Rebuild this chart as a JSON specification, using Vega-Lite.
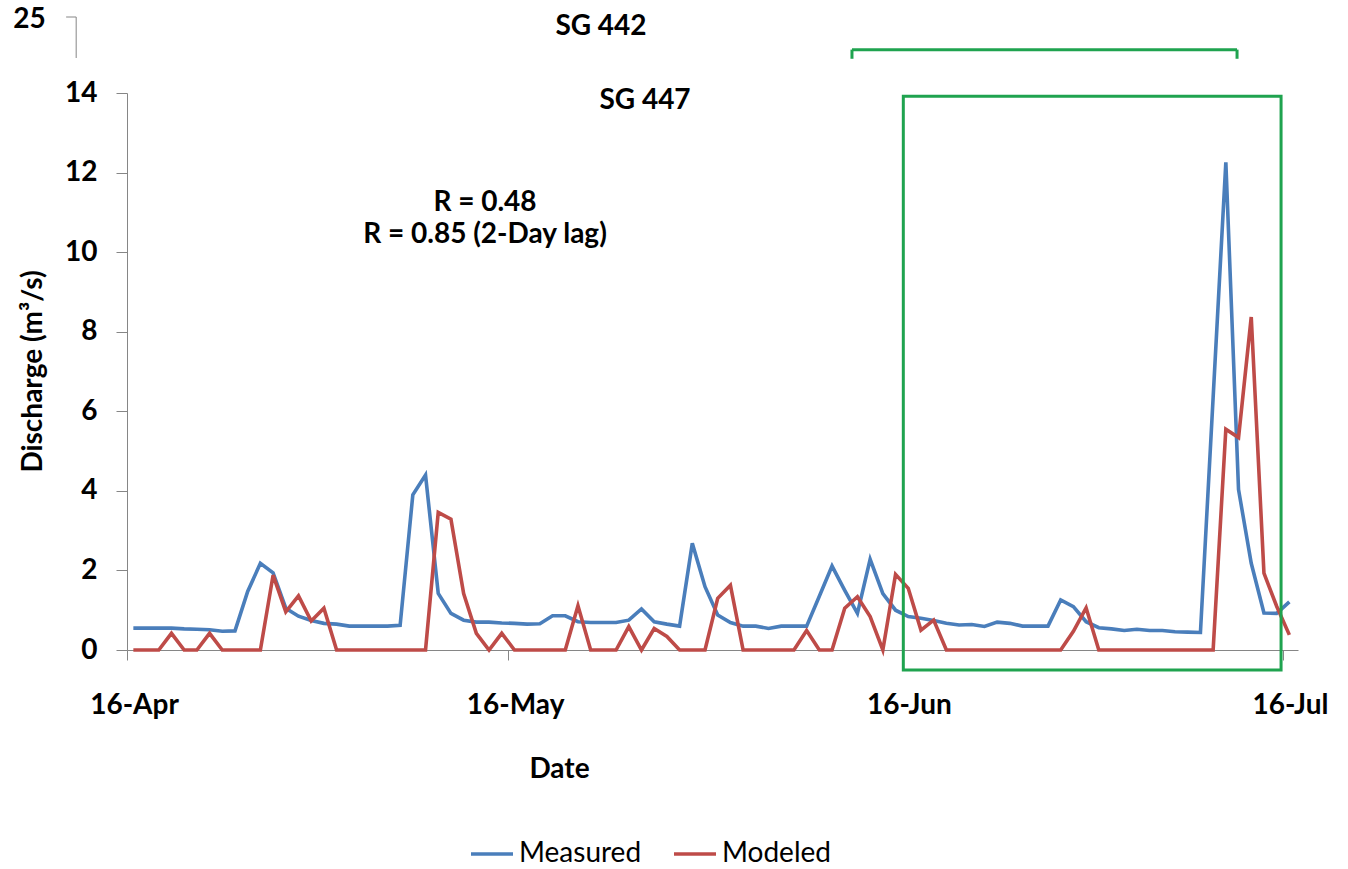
{
  "$schema": "https://vega.github.io/schema/vega-lite/v6.json",
  "width": 1171,
  "height": 557,
  "autosize": {"type": "none"},
  "padding": {"left": 127, "top": 93, "right": 50, "bottom": 219},
  "background": "white",
  "config": {"view": {"stroke": null}, "font": "Lato"},
  "datasets": {
    "flow": [
      {"date": "2012-04-16T12:00", "Measured": 0.55, "Modeled": 0},
      {"date": "2012-04-17T12:00", "Measured": 0.55, "Modeled": 0},
      {"date": "2012-04-18T12:00", "Measured": 0.55, "Modeled": 0},
      {"date": "2012-04-19T12:00", "Measured": 0.55, "Modeled": 0.42},
      {"date": "2012-04-20T12:00", "Measured": 0.53, "Modeled": 0},
      {"date": "2012-04-21T12:00", "Measured": 0.52, "Modeled": 0},
      {"date": "2012-04-22T12:00", "Measured": 0.51, "Modeled": 0.42},
      {"date": "2012-04-23T12:00", "Measured": 0.47, "Modeled": 0},
      {"date": "2012-04-24T12:00", "Measured": 0.48, "Modeled": 0},
      {"date": "2012-04-25T12:00", "Measured": 1.47, "Modeled": 0},
      {"date": "2012-04-26T12:00", "Measured": 2.18, "Modeled": 0},
      {"date": "2012-04-27T12:00", "Measured": 1.94, "Modeled": 1.88},
      {"date": "2012-04-28T12:00", "Measured": 1.05, "Modeled": 0.96},
      {"date": "2012-04-29T12:00", "Measured": 0.85, "Modeled": 1.36},
      {"date": "2012-04-30T12:00", "Measured": 0.74, "Modeled": 0.73},
      {"date": "2012-05-01T12:00", "Measured": 0.67, "Modeled": 1.05},
      {"date": "2012-05-02T12:00", "Measured": 0.65, "Modeled": 0},
      {"date": "2012-05-03T12:00", "Measured": 0.6, "Modeled": 0},
      {"date": "2012-05-04T12:00", "Measured": 0.6, "Modeled": 0},
      {"date": "2012-05-05T12:00", "Measured": 0.6, "Modeled": 0},
      {"date": "2012-05-06T12:00", "Measured": 0.6, "Modeled": 0},
      {"date": "2012-05-07T12:00", "Measured": 0.62, "Modeled": 0},
      {"date": "2012-05-08T12:00", "Measured": 3.9, "Modeled": 0},
      {"date": "2012-05-09T12:00", "Measured": 4.4, "Modeled": 0},
      {"date": "2012-05-10T12:00", "Measured": 1.42, "Modeled": 3.46},
      {"date": "2012-05-11T12:00", "Measured": 0.92, "Modeled": 3.29},
      {"date": "2012-05-12T12:00", "Measured": 0.75, "Modeled": 1.42},
      {"date": "2012-05-13T12:00", "Measured": 0.7, "Modeled": 0.42},
      {"date": "2012-05-14T12:00", "Measured": 0.7, "Modeled": 0},
      {"date": "2012-05-15T12:00", "Measured": 0.68, "Modeled": 0.42},
      {"date": "2012-05-16T12:00", "Measured": 0.67, "Modeled": 0},
      {"date": "2012-05-17T12:00", "Measured": 0.65, "Modeled": 0},
      {"date": "2012-05-18T12:00", "Measured": 0.66, "Modeled": 0},
      {"date": "2012-05-19T12:00", "Measured": 0.86, "Modeled": 0},
      {"date": "2012-05-20T12:00", "Measured": 0.86, "Modeled": 0},
      {"date": "2012-05-21T12:00", "Measured": 0.71, "Modeled": 1.11},
      {"date": "2012-05-22T12:00", "Measured": 0.69, "Modeled": 0},
      {"date": "2012-05-23T12:00", "Measured": 0.69, "Modeled": 0},
      {"date": "2012-05-24T12:00", "Measured": 0.69, "Modeled": 0},
      {"date": "2012-05-25T12:00", "Measured": 0.75, "Modeled": 0.59},
      {"date": "2012-05-26T12:00", "Measured": 1.03, "Modeled": 0},
      {"date": "2012-05-27T12:00", "Measured": 0.71, "Modeled": 0.54},
      {"date": "2012-05-28T12:00", "Measured": 0.65, "Modeled": 0.34},
      {"date": "2012-05-29T12:00", "Measured": 0.6, "Modeled": 0},
      {"date": "2012-05-30T12:00", "Measured": 2.68, "Modeled": 0},
      {"date": "2012-05-31T12:00", "Measured": 1.59, "Modeled": 0},
      {"date": "2012-06-01T12:00", "Measured": 0.88, "Modeled": 1.3},
      {"date": "2012-06-02T12:00", "Measured": 0.69, "Modeled": 1.63},
      {"date": "2012-06-03T12:00", "Measured": 0.6, "Modeled": 0},
      {"date": "2012-06-04T12:00", "Measured": 0.6, "Modeled": 0},
      {"date": "2012-06-05T12:00", "Measured": 0.54, "Modeled": 0},
      {"date": "2012-06-06T12:00", "Measured": 0.6, "Modeled": 0},
      {"date": "2012-06-07T12:00", "Measured": 0.6, "Modeled": 0},
      {"date": "2012-06-08T12:00", "Measured": 0.6, "Modeled": 0.49},
      {"date": "2012-06-09T12:00", "Measured": 1.35, "Modeled": 0},
      {"date": "2012-06-10T12:00", "Measured": 2.11, "Modeled": 0},
      {"date": "2012-06-11T12:00", "Measured": 1.5, "Modeled": 1.05},
      {"date": "2012-06-12T12:00", "Measured": 0.92, "Modeled": 1.34},
      {"date": "2012-06-13T12:00", "Measured": 2.28, "Modeled": 0.84},
      {"date": "2012-06-14T12:00", "Measured": 1.42, "Modeled": 0},
      {"date": "2012-06-15T12:00", "Measured": 1.0, "Modeled": 1.9},
      {"date": "2012-06-16T12:00", "Measured": 0.84, "Modeled": 1.55},
      {"date": "2012-06-17T12:00", "Measured": 0.8, "Modeled": 0.5},
      {"date": "2012-06-18T12:00", "Measured": 0.74, "Modeled": 0.75},
      {"date": "2012-06-19T12:00", "Measured": 0.67, "Modeled": 0},
      {"date": "2012-06-20T12:00", "Measured": 0.63, "Modeled": 0},
      {"date": "2012-06-21T12:00", "Measured": 0.64, "Modeled": 0},
      {"date": "2012-06-22T12:00", "Measured": 0.59, "Modeled": 0},
      {"date": "2012-06-23T12:00", "Measured": 0.7, "Modeled": 0},
      {"date": "2012-06-24T12:00", "Measured": 0.67, "Modeled": 0},
      {"date": "2012-06-25T12:00", "Measured": 0.6, "Modeled": 0},
      {"date": "2012-06-26T12:00", "Measured": 0.6, "Modeled": 0},
      {"date": "2012-06-27T12:00", "Measured": 0.6, "Modeled": 0},
      {"date": "2012-06-28T12:00", "Measured": 1.26, "Modeled": 0},
      {"date": "2012-06-29T12:00", "Measured": 1.09, "Modeled": 0.47},
      {"date": "2012-06-30T12:00", "Measured": 0.71, "Modeled": 1.06},
      {"date": "2012-07-01T12:00", "Measured": 0.56, "Modeled": 0},
      {"date": "2012-07-02T12:00", "Measured": 0.53, "Modeled": 0},
      {"date": "2012-07-03T12:00", "Measured": 0.49, "Modeled": 0},
      {"date": "2012-07-04T12:00", "Measured": 0.52, "Modeled": 0},
      {"date": "2012-07-05T12:00", "Measured": 0.49, "Modeled": 0},
      {"date": "2012-07-06T12:00", "Measured": 0.49, "Modeled": 0},
      {"date": "2012-07-07T12:00", "Measured": 0.46, "Modeled": 0},
      {"date": "2012-07-08T12:00", "Measured": 0.45, "Modeled": 0},
      {"date": "2012-07-09T12:00", "Measured": 0.44, "Modeled": 0},
      {"date": "2012-07-10T12:00", "Measured": 6.35, "Modeled": 0},
      {"date": "2012-07-11T12:00", "Measured": 12.26, "Modeled": 5.55},
      {"date": "2012-07-12T12:00", "Measured": 4.03, "Modeled": 5.34},
      {"date": "2012-07-13T12:00", "Measured": 2.18, "Modeled": 8.37},
      {"date": "2012-07-14T12:00", "Measured": 0.93, "Modeled": 1.93},
      {"date": "2012-07-15T12:00", "Measured": 0.92, "Modeled": 1.1},
      {"date": "2012-07-16T12:00", "Measured": 1.21, "Modeled": 0.38}
    ],
    "box447": [
      {"date": "2012-06-16T02:40", "date2": "2012-07-15T20:20", "q": -0.5, "q2": 13.92}
    ],
    "box442": [
      {"date": "2012-06-12T01:40", "q": 15.09, "date2": "2012-07-12T09:10", "q2": 15.09},
      {"date": "2012-06-12T01:40", "q": 15.09, "date2": "2012-06-12T01:40", "q2": 14.86},
      {"date": "2012-07-12T09:10", "q": 15.09, "date2": "2012-07-12T09:10", "q2": 14.86}
    ],
    "stub": [
      {"date": "2012-04-12T00:00", "q": 15.91, "date2": "2012-04-12T00:00", "q2": 14.88},
      {"date": "2012-04-11T05:00", "q": 15.91, "date2": "2012-04-12T00:00", "q2": 15.91}
    ],
    "notes": [
      {"label": "SG 442", "date": "2012-05-23T07:30", "q": 15.66},
      {"label": "SG 447", "date": "2012-05-26T18:40", "q": 13.8},
      {"label": "R = 0.48", "date": "2012-05-14T04:20", "q": 11.23},
      {"label": "R = 0.85 (2-Day lag)", "date": "2012-05-14T04:20", "q": 10.43},
      {"label": "25", "date": "2012-04-08T07:40", "q": 15.83}
    ]
  },
  "encoding": {
    "x": {
      "field": "date",
      "type": "temporal",
      "scale": {
        "domain": [
          {"year": 2012, "month": 4, "date": 16, "hours": 0},
          {"year": 2012, "month": 7, "date": 17, "hours": 4, "minutes": 20}
        ],
        "nice": false
      },
      "axis": {
        "title": "Date",
        "values": [
          {"year": 2012, "month": 4, "date": 16},
          {"year": 2012, "month": 5, "date": 16},
          {"year": 2012, "month": 6, "date": 16},
          {"year": 2012, "month": 7, "date": 16}
        ],
        "format": "%d-%b",
        "grid": false,
        "domainColor": "#868686",
        "tickColor": "#868686",
        "tickSize": 10,
        "labelOffset": 7,
        "labelPadding": 31,
        "labelFlush": false,
        "labelOverlap": false,
        "labelBound": false,
        "labelFont": "Lato",
        "labelFontWeight": "bold",
        "labelFontSize": 28,
        "labelColor": "black",
        "titleFont": "Lato",
        "titleFontWeight": "bold",
        "titleFontSize": 28,
        "titleColor": "black",
        "titleX": 432,
        "titleY": 119,
        "titleAlign": "center",
        "titleBaseline": "middle",
        "titleAnchor": null
      }
    },
    "y": {
      "field": "q",
      "type": "quantitative",
      "scale": {"domain": [0, 14], "nice": false, "zero": false},
      "axis": {
        "title": "Discharge (m³/s)",
        "values": [0, 2, 4, 6, 8, 10, 12, 14],
        "grid": false,
        "domainColor": "#868686",
        "tickColor": "#868686",
        "tickSize": 11,
        "labelPadding": 19,
        "labelFont": "Lato",
        "labelFontWeight": "bold",
        "labelFontSize": 28,
        "labelColor": "black",
        "labelFlush": false,
        "labelOverlap": false,
        "titleFont": "Lato",
        "titleFontWeight": "bold",
        "titleFontSize": 28,
        "titleColor": "black",
        "titleAngle": -90,
        "titleX": -94,
        "titleY": 278,
        "titleAlign": "center",
        "titleBaseline": "middle"
      }
    }
  },
  "layer": [
    {
      "data": {"name": "flow"},
      "transform": [{"fold": ["Measured", "Modeled"], "as": ["series", "q"]}],
      "mark": {"type": "line", "strokeWidth": 3.6, "strokeJoin": "miter"},
      "encoding": {
        "color": {
          "field": "series",
          "type": "nominal",
          "scale": {"domain": ["Measured", "Modeled"], "range": ["#4a7ebb", "#be4b48"]},
          "legend": {
            "title": null,
            "orient": "none",
            "direction": "horizontal",
            "legendX": 342,
            "legendY": 738,
            "symbolType": "stroke",
            "symbolSize": 1764,
            "symbolStrokeWidth": 3.6,
            "labelFont": "Lato",
            "labelFontSize": 28,
            "labelColor": "black",
            "labelOffset": 4,
            "labelLimit": 400,
            "columnPadding": 24
          }
        }
      }
    },
    {
      "data": {"name": "box447"},
      "mark": {"type": "rect", "fill": null, "stroke": "#1fa34f", "strokeWidth": 3},
      "encoding": {"x2": {"field": "date2"}, "y2": {"field": "q2"}}
    },
    {
      "data": {"name": "box442"},
      "mark": {"type": "rule", "color": "#1fa34f", "strokeWidth": 3},
      "encoding": {"x2": {"field": "date2"}, "y2": {"field": "q2"}}
    },
    {
      "data": {"name": "stub"},
      "mark": {"type": "rule", "color": "#868686", "strokeWidth": 1},
      "encoding": {"x2": {"field": "date2"}, "y2": {"field": "q2"}}
    },
    {
      "data": {"name": "notes"},
      "mark": {"type": "text", "font": "Lato", "fontWeight": "bold", "fontSize": 28, "align": "center", "baseline": "middle", "color": "black"},
      "encoding": {"text": {"field": "label", "type": "nominal"}}
    }
  ]
}
